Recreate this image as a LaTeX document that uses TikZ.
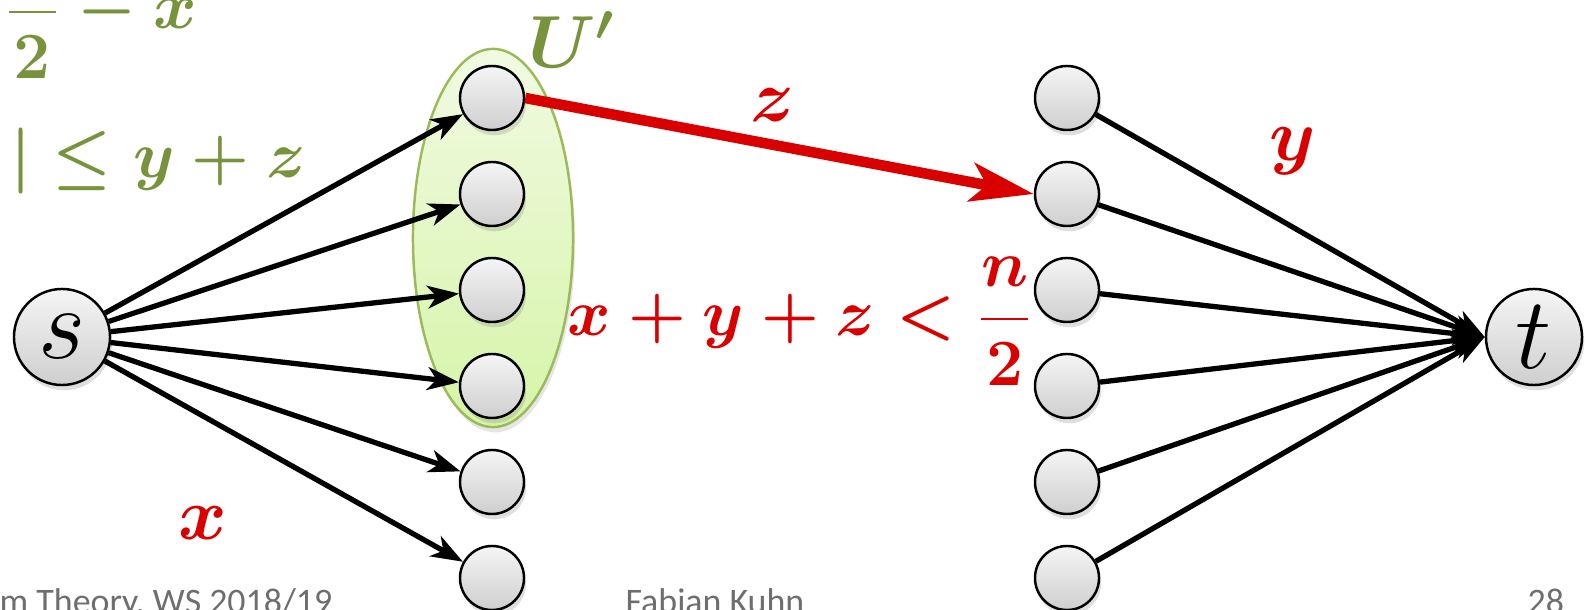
\RequirePackage{fix-cm}
\documentclass[tikz,border=0pt]{standalone}
\usepackage{amsmath}
\usepackage{fontspec}
\newfontfamily\footfont{Carlito}
\usepackage{tikz}
\usetikzlibrary{arrows.meta, shapes.geometric, shadows}

\definecolor{flowred}{HTML}{D90000}
\definecolor{setgreen}{HTML}{77933C}
\definecolor{setedge}{HTML}{9BBB59}
\definecolor{settop}{HTML}{F1FAE2}
\definecolor{setbottom}{HTML}{D6F4A8}
\definecolor{footgray}{HTML}{6E6E6E}

\tikzset{
	vertex/.style={circle, draw=black, line width=0.7pt, inner sep=0pt,
		top color=gray!8, bottom color=gray!38,
		drop shadow={opacity=0.25, shadow xshift=0.6pt, shadow yshift=-1.5pt}},
	bigvertex/.style={vertex, minimum size=0.96cm, font=\fontsize{29}{34}\selectfont},
	smallvertex/.style={vertex, minimum size=0.64cm},
	uset/.style={ellipse, draw=setedge, line width=0.7pt, inner sep=0pt,
		minimum width=1.6cm, minimum height=3.78cm,
		top color=settop, bottom color=setbottom,
		drop shadow={opacity=0.2, shadow xshift=0.6pt, shadow yshift=-1.5pt}},
	edge/.style={line width=1.5pt, -{Stealth[length=9pt, width=6.5pt, inset=2.6pt]}},
	redge/.style={flowred, line width=3pt, -{Stealth[length=18pt, width=11pt, inset=4.5pt]}},
	redlabel/.style={flowred, inner sep=0pt, font=\fontsize{21}{25}\selectfont\boldmath},
	greenlabel/.style={setgreen, inner sep=0pt, font=\fontsize{21}{25}\selectfont\boldmath},
	formula/.style={inner sep=0pt, font=\fontsize{18.8}{23}\selectfont\boldmath},
	footer/.style={footgray, inner sep=0pt, anchor=base west, font=\footfont\fontsize{10.2}{12}\selectfont}
}

\begin{document}
\begin{tikzpicture}[x=0.01cm, y=-0.01cm]
	\useasboundingbox (0,0) rectangle (1585,610);
	\clip (0,0) rectangle (1585,610);

	\node[uset] (U) at (493,238) {};
	\node[bigvertex] (s) at (62,337) {$s$};
	\node[bigvertex] (t) at (1534,337) {$t$};
	\foreach \i/\y in {
		1/98,
		2/194,
		3/290,
		4/386,
		5/482,
		6/578
	}{
		\node[smallvertex] (a\i) at (492,\y) {};
		\node[smallvertex] (b\i) at (1067,\y) {};
		\draw[edge] (s) -- (a\i);
		\draw[edge] (b\i) -- (t.west);
	}
	\draw[redge] (a1.east) -- (b2.west);

	\node[greenlabel] (uname) at (572,40) {$U'$};
	\node[redlabel] (zlab) at (773,105) {$z$};
	\node[redlabel] (ylab) at (1293,151) {$y$};
	\node[redlabel] (xlab) at (203,523) {$x$};
	\node[formula, flowred] (bound) at (800,321) {$x+y+z<\dfrac{n}{2}$};
	\node[formula, setgreen, anchor=west] (lower) at (4,14) {$\dfrac{n}{2}-x$};
	\node[formula, setgreen, anchor=base west] (upper) at (10,178) {$|\le y+z$};

	\node[footer] (course) at (-1,614) {m Theory, WS 2018/19};
	\node[footer] (author) at (625,614) {Fabian Kuhn};
	\node[footer] (page) at (1527,614) {28};
\end{tikzpicture}
\end{document}
